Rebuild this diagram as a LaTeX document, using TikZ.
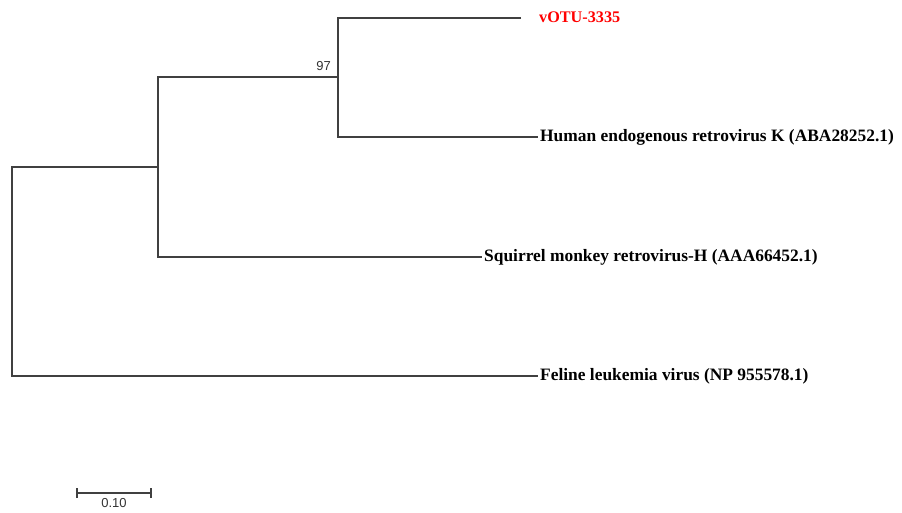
\documentclass[tikz,border=0pt]{standalone}
\usepackage{fontspec}
\setmainfont{Liberation Serif}
\newfontfamily\numfont{Liberation Sans}
\begin{document}
\begin{tikzpicture}[x=1pt,y=-1pt,
  branch/.style={draw=black!75, line width=1.3pt},
  leaf/.style={anchor=west, inner xsep=2pt, inner ysep=0pt, font=\fontsize{17.4}{20}\selectfont\bfseries},
  boot/.style={font=\numfont\fontsize{13}{15}\selectfont, text=black!80, inner sep=1pt}]
\useasboundingbox (0,0) rectangle (902,513);
% internal nodes
\coordinate (root) at (12,272);
\coordinate (A) at (158,167);
\coordinate (B) at (338,77);
\coordinate (vEnd) at (521,18);
% leaves
\node[leaf, text=red, font=\fontsize{16.2}{19}\selectfont\bfseries] (v) at (537,17) {vOTU-3335};
\node[leaf] (h) at (538,137) {Human endogenous retrovirus K (ABA28252.1)};
\node[leaf] (s) at (482,257) {Squirrel monkey retrovirus-H (AAA66452.1)};
\node[leaf] (f) at (538,376) {Feline leukemia virus (NP 955578.1)};
% tree
\draw[branch] (A) -| (root) |- (f.west);
\draw[branch] (B) -| (A) |- (s.west);
\draw[branch] (vEnd) -| (B) |- (h.west);
% bootstrap
\node[boot, anchor=south east] (bs) at (332,72) {97};
% scale bar
\coordinate (s1) at (77,493);
\coordinate (s2) at (151,493);
\draw[branch, line width=1.1pt] (s1) -- (s2);
\draw[branch, line width=1.1pt] ([yshift=-5]s1) -- ([yshift=5]s1);
\draw[branch, line width=1.1pt] ([yshift=-5]s2) -- ([yshift=5]s2);
\node[boot, anchor=north] (sl) at (114,497) {0.10};
\end{tikzpicture}
\end{document}
